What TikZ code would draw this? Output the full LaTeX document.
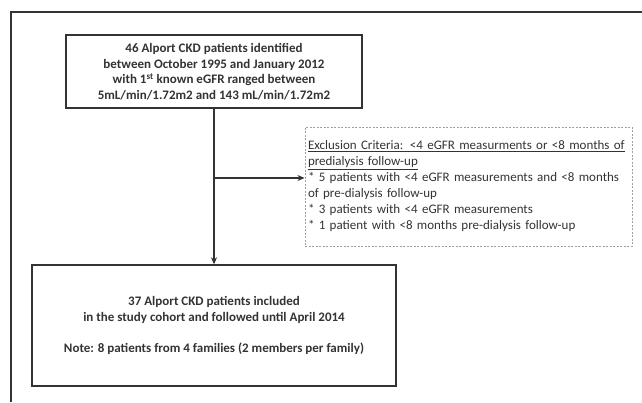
\documentclass[tikz,border=0pt]{standalone}
\usepackage{fontspec}
\setmainfont{Carlito}
\usetikzlibrary{positioning,arrows.meta}
\definecolor{inkgray}{HTML}{333333}
\definecolor{dashgray}{HTML}{A0A0A0}
\tikzset{
	flowbox/.style={draw=inkgray,line width=1.4pt,text=inkgray,align=center,inner sep=0pt,
		font=\bfseries\fontsize{13}{15.5}\selectfont},
	exclbox/.style={draw=dashgray,line width=1pt,dash pattern=on 2pt off 1.5pt,text=inkgray,
		align=left,inner sep=3pt,text width=321pt,font=\fontsize{13}{16}\selectfont},
	flowarrow/.style={draw=inkgray,line width=1.4pt,-{Stealth[length=7pt,width=6pt]}}
}
\begin{document}
\begin{tikzpicture}[x=1pt,y=-1pt]
	\useasboundingbox (0,0) rectangle (642,402);
	\draw[inkgray,line width=1.2pt] (642,12)--(11,12)--(11,402);
	\node[flowbox,minimum width=296pt,minimum height=73pt] (identified) at (214,71.5)
		{46 Alport CKD patients identified\\ between October 1995 and January 2012\\
		with 1\textsuperscript{st} known eGFR ranged between\\ 5mL/min/1.72m2 and 143 mL/min/1.72m2};
	\node[exclbox,minimum height=119pt] (excluded) at (468.5,186.5)
		{\underline{Exclusion Criteria: <4 eGFR measurments or <8 months of}\\
		\underline{predialysis follow-up}\\
		{*} 5 patients with <4 eGFR measurements and <8 months\\ of pre-dialysis follow-up\\
		{*} 3 patients with <4 eGFR measurements\\
		{*} 1 patient with <8 months pre-dialysis follow-up};
	\node[flowbox,minimum width=364pt,minimum height=121pt] (included) at (214,325.5)
		{37 Alport CKD patients included\\ in the study cohort and followed until April 2014\\[15.5pt]
		Note: 8 patients from 4 families (2 members per family)};
	\coordinate (branch) at (214,178);
	\draw[flowarrow] (identified)--(included);
	\draw[flowarrow] (branch)--(branch-|excluded.west);
\end{tikzpicture}
\end{document}
